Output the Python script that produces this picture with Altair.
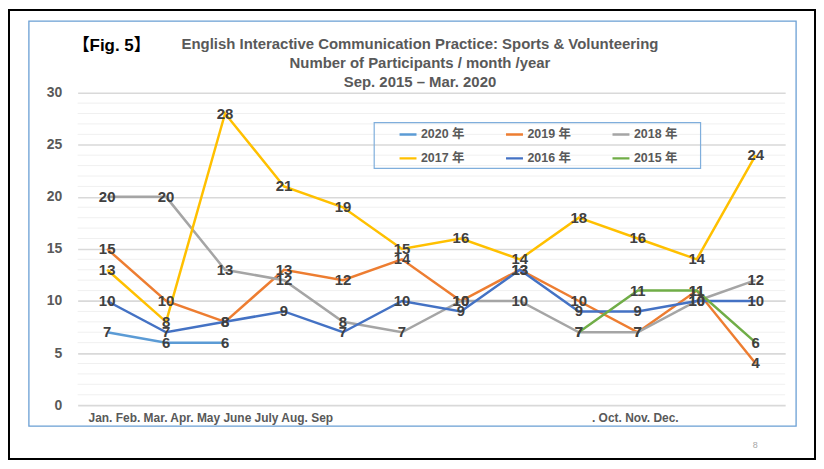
import altair as alt
import pandas as pd

# ---------------- data ----------------
months = list(range(1, 13))
series_names = ["2020 年", "2019 年", "2018 年", "2017 年", "2016 年", "2015 年"]
series_colors = ["#5B9BD5", "#ED7D31", "#A5A5A5", "#FFC000", "#4472C4", "#70AD47"]

y2020 = [7, 6, 6, None, None, None, None, None, None, None, None, None]
y2019 = [15, 10, 8, 13, 12, 14, 10, 13, 10, 7, 11, 4]
y2018 = [20, 20, 13, 12, 8, 7, 10, 10, 7, 7, 10, 12]
y2017 = [13, 8, 28, 21, 19, 15, 16, 14, 18, 16, 14, 24]
y2016 = [10, 7, 8, 9, 7, 10, 9, 13, 9, 9, 10, 10]
y2015 = [None, None, None, None, None, None, None, None, 7, 11, 11, 6]

x_label_texts = ["Jan. Feb. Mar. Apr. May June July Aug. Sep", ". Oct. Nov. Dec."]
x_label_anchor = [2.75, 9.95]
y_major_ticks = [0, 5, 10, 15, 20, 25, 30]
y_minor_grid = [v for v in range(0, 31) if v % 5 != 0]

title_lines = [
    "English Interactive Communication Practice: Sports & Volunteering",
    "Number of Participants / month /year",
    "Sep. 2015 \u2013 Mar. 2020",
]
fig_label = "【Fig. 5】"
page_number = "8"

all_series = [y2020, y2019, y2018, y2017, y2016, y2015]
rows = []
for name, vals in zip(series_names, all_series):
    for m, v in zip(months, vals):
        if v is not None:
            rows.append({"month": m, "value": v, "year": name})
df = pd.DataFrame(rows)

# ---------------- layout ----------------
W, H = 711, 314
FONT = "Liberation Sans, Arial, Noto Sans CJK JP"
one = pd.DataFrame({"k": [0]})

x_scale = alt.Scale(domain=[0.5, 12.5], nice=False, zero=False)
y_scale = alt.Scale(domain=[0, 30], nice=False, zero=True)

label_expr = "datum.value < 5 ? '%s' : '%s'" % (x_label_texts[0], x_label_texts[1])

x_axis = alt.Axis(
    values=x_label_anchor, labelExpr=label_expr, title=None, grid=False,
    ticks=False, domain=False, labelFont=FONT, labelFontSize=12,
    labelFontWeight="bold", labelColor="#595959", labelPadding=7,
    labelOverlap=False, labelBound=False, labelFlush=False, labelLimit=500,
)
y_axis = alt.Axis(
    values=y_major_ticks, title=None, ticks=False, domain=False,
    labelFont=FONT, labelFontSize=14, labelFontWeight="bold",
    labelColor="#595959", labelPadding=16, labelOverlap=False,
    grid=True, gridColor="#D9D9D9", gridWidth=1.6,
)

minor = alt.Chart(pd.DataFrame({"g": y_minor_grid})).mark_rule(
    color="#F0F0F0", strokeWidth=1
).encode(
    y=alt.Y("g:Q", scale=y_scale, axis=y_axis),
    x=alt.value(0), x2=alt.value(W),
)

base = alt.Chart(df)

lines = base.mark_line(strokeWidth=2.5).encode(
    x=alt.X("month:Q", scale=x_scale, axis=x_axis),
    y=alt.Y("value:Q", scale=y_scale, axis=y_axis),
    color=alt.Color(
        "year:N",
        scale=alt.Scale(domain=series_names, range=series_colors),
        sort=series_names,
        legend=alt.Legend(
            orient="none", legendX=322, legendY=35, direction="horizontal",
            columns=3, title=None, symbolType="stroke", symbolSize=290,
            symbolStrokeWidth=2.5, labelFont=FONT, labelFontSize=12.5,
            labelFontWeight="bold", labelColor="#595959", labelOffset=3,
            columnPadding=40, rowPadding=10, padding=0, clipHeight=14,
            gridAlign="all",
        ),
    ),
    detail="year:N",
)

labels = base.mark_text(
    font=FONT, fontSize=15, fontWeight="bold", color="#404040",
    align="center", baseline="middle",
).encode(
    x=alt.X("month:Q", scale=x_scale),
    y=alt.Y("value:Q", scale=y_scale),
    text="value:Q",
)

black_frame = alt.Chart(one).mark_rect(
    fillOpacity=0, stroke="#000000", strokeWidth=2
).encode(x=alt.value(-69), x2=alt.value(741), y=alt.value(-83), y2=alt.value(368))

blue_frame = alt.Chart(one).mark_rect(
    fillOpacity=0, stroke="#6A9FD4", strokeWidth=1.3
).encode(x=alt.value(-49), x2=alt.value(722), y=alt.value(-72), y2=alt.value(335))

legend_box = alt.Chart(one).mark_rect(
    fillOpacity=0, stroke="#7FAEDC", strokeWidth=1.2
).encode(x=alt.value(298), x2=alt.value(626), y=alt.value(30), y2=alt.value(76))

title_text = alt.Chart(one).mark_text(
    text=title_lines, font=FONT, fontSize=15, fontWeight="bold",
    color="#595959", align="center", baseline="middle", lineHeight=19,
).encode(x=alt.value(344), y=alt.value(-49))

fig_text = alt.Chart(pd.DataFrame({"t": [fig_label]})).mark_text(
    font="Liberation Sans, Noto Sans CJK JP", fontSize=17, fontWeight="bold",
    color="#000000", align="left", baseline="middle",
).encode(x=alt.value(-5), y=alt.value(-47), text="t:N")

page_text = alt.Chart(pd.DataFrame({"t": [page_number]})).mark_text(
    font=FONT, fontSize=9, color="#A6A6A6", align="center", baseline="middle",
).encode(x=alt.value(681), y=alt.value(354), text="t:N")

chart = alt.layer(
    black_frame, blue_frame, minor, lines, labels, legend_box,
    title_text, fig_text, page_text
).properties(
    width=W, height=H,
    autosize=alt.AutoSizeParams(type="none"),
    padding={"left": 70, "top": 84, "right": 31, "bottom": 55},
    background="white",
).configure_view(stroke=None)

chart.save("out.html", embed_options={"renderer": "svg", "actions": False})
